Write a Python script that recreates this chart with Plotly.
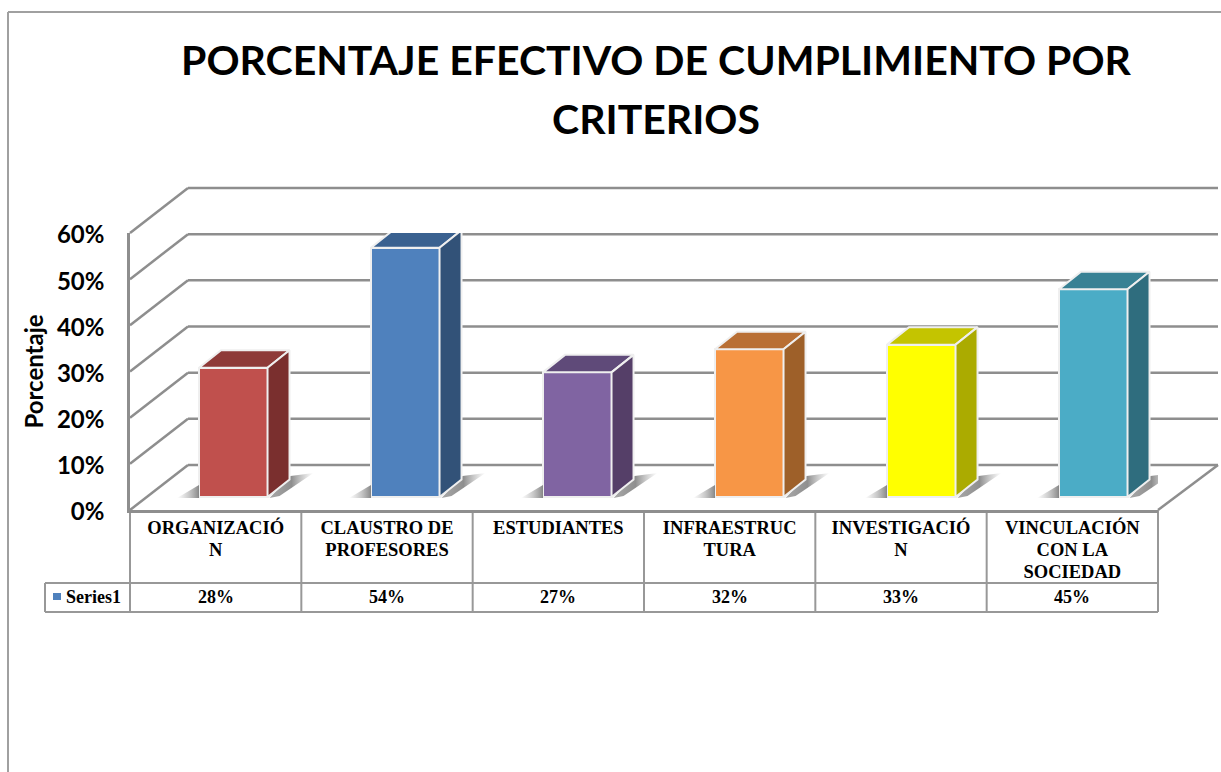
import plotly.graph_objects as go

# ---- data ----
categories = [["ORGANIZACIÓ", "N"], ["CLAUSTRO DE", "PROFESORES"], ["ESTUDIANTES"],
              ["INFRAESTRUC", "TURA"], ["INVESTIGACIÓ", "N"], ["VINCULACIÓN", "CON LA", "SOCIEDAD"]]
values = [0.28, 0.54, 0.27, 0.32, 0.33, 0.45]
value_labels = ["28%", "54%", "27%", "32%", "33%", "45%"]
y_ticks = [0, 0.1, 0.2, 0.3, 0.4, 0.5, 0.6]
series_name = "Series1"
title_lines = ["PORCENTAJE EFECTIVO DE CUMPLIMIENTO POR", "CRITERIOS"]
front_colors = ["#C0504D", "#4F81BD", "#8064A2", "#F79646", "#FFFF00", "#4BACC6"]
top_colors = ["#8E3A38", "#3A6190", "#5F4A79", "#B96F34", "#C4C400", "#388194"]
side_colors = ["#7A2F2E", "#325278", "#553F68", "#9E6029", "#ABAB00", "#2F6D7E"]

# ---- geometry of the pseudo-3D box ----
W, H = 1221, 772
L, R, T, B = 130, 1158, 233, 510        # front plane of the plot in pixels
PX_X = (R - L) / 6                       # pixels per category
PX_Y = (B - T) / 0.6                     # pixels per unit of value
WALL_DX, WALL_DY = 58, 45
BAR_DX, BAR_DY = 17.6, 13
BAR_STEP = 172 / PX_X
DEPTH_DX, DEPTH_DY = 22, 17.5
BAR_W = 68.5 / PX_X
GRID = "#8E8E8E"
TABLE = "#989898"
BAR_EDGE = "#EFEFEF"
SERIF = "Liberation Serif"
SANS = "Lato"


def px(v):
    return (v - L) / (R - L)


def py(v):
    return (B - v) / (B - T)


shapes = []


def line(x0, y0, x1, y1, color=GRID, width=2.5):
    shapes.append(dict(type="line", xref="paper", yref="paper", layer="below",
                       x0=x0, y0=y0, x1=x1, y1=y1,
                       line=dict(color=color, width=width)))


# chart frame
line(px(8), py(773), px(8), py(12), "#A0A0A0", 2)
line(px(8), py(12), px(W + 2), py(12), "#A0A0A0", 2)

# walls and floor, from the tick values
for t in y_ticks:
    yf = t / 0.6
    yb = yf + py(B - WALL_DY)
    line(0, yf, px(L + WALL_DX), yb)
    line(px(L + WALL_DX), yb, px(1218), yb)
line(1, 0, px(1218), py(B - WALL_DY))

# data table rulings
for i in range(7):
    line(i / 6, 0, i / 6, py(612), TABLE, 2)
line(px(45), py(583), 1, py(583), TABLE, 2)
line(px(45), py(612), 1, py(612), TABLE, 2)
line(px(45), py(583), px(45), py(612), TABLE, 2)

# legend key
shapes.append(dict(type="rect", xref="paper", yref="paper", layer="above",
                   x0=px(53), x1=px(61), y0=py(600), y1=py(593),
                   fillcolor=front_colors[1], line_width=0))

fig = go.Figure()

x_centers = [0.5 + BAR_DX / PX_X + i * BAR_STEP for i in range(len(values))]
base = BAR_DY / PX_Y
dx = DEPTH_DX / PX_X
dy = DEPTH_DY / PX_Y

fig.add_trace(go.Bar(
    x=x_centers, y=values, base=base, width=BAR_W, name=series_name,
    marker=dict(color=front_colors, line=dict(color=BAR_EDGE, width=2)),
    cliponaxis=False, showlegend=False, hoverinfo="skip"))

for xc, v, tc, sc in zip(x_centers, values, top_colors, side_colors):
    x0, x1 = xc - BAR_W / 2, xc + BAR_W / 2
    top = v + base
    # floor shadows
    fig.add_trace(go.Scatter(
        x=[x0 - 22 / PX_X, x0, x0, x0 - 22 / PX_X],
        y=[base - 1 / PX_Y, base - 1 / PX_Y, base + 12 / PX_Y, base - 1 / PX_Y],
        mode="lines", line=dict(width=0), fill="toself", cliponaxis=False,
        fillgradient=dict(type="horizontal", colorscale=[[0, "rgba(150,150,150,0)"], [0.55, "rgba(135,135,135,0.45)"], [1, "rgba(115,115,115,0.85)"]]),
        showlegend=False, hoverinfo="skip"))
    fig.add_trace(go.Scatter(
        x=[x1 + 2 / PX_X, x1 + dx + 1 / PX_X, x1 + dx + 24 / PX_X, x1 + 12 / PX_X, x1 + 2 / PX_X],
        y=[base - 1 / PX_Y, base + 21 / PX_Y, base + 24 / PX_Y, base + 1 / PX_Y, base - 1 / PX_Y],
        mode="lines", line=dict(width=0), fill="toself", cliponaxis=False,
        fillgradient=dict(type="horizontal", colorscale=[[0, "rgba(120,120,120,0.65)"], [0.5, "rgba(115,115,115,0.8)"], [1, "rgba(150,150,150,0)"]]),
        showlegend=False, hoverinfo="skip"))
    # top face
    fig.add_trace(go.Scatter(
        x=[x0, x1, x1 + dx, x0 + dx, x0], y=[top, top, top + dy, top + dy, top],
        mode="lines", line=dict(color=BAR_EDGE, width=2), fill="toself", fillcolor=tc,
        cliponaxis=False, showlegend=False, hoverinfo="skip"))
    # side face
    fig.add_trace(go.Scatter(
        x=[x1, x1 + dx, x1 + dx, x1, x1], y=[base, base + dy, top + dy, top, base],
        mode="lines", line=dict(color=BAR_EDGE, width=2), fill="toself", fillcolor=sc,
        cliponaxis=False, showlegend=False, hoverinfo="skip"))

annotations = [dict(xref="x", yref="paper", x=i + 0.5, y=py(597), yanchor="middle", text=lab, showarrow=False,
                    font=dict(family=SERIF, size=18, color="#000000", weight="bold"))
               for i, lab in enumerate(value_labels)]
annotations.append(dict(xref="paper", yref="paper", x=px(64), y=py(596.5), yanchor="middle", text=series_name,
                        xanchor="left", showarrow=False,
                        font=dict(family=SERIF, size=18, color="#000000", weight="bold")))

title_html = "<br>".join(f'<span style="font-size:41px">{t}</span>' for t in title_lines)
tick_html = ["<br>".join(f'<span style="font-size:18.5px">{p}</span>' for p in c) for c in categories]

fig.update_layout(
    width=W, height=H, autosize=False,
    margin=dict(l=L, r=W - R, t=T, b=H - B, pad=0),
    paper_bgcolor="#FFFFFF", plot_bgcolor="rgba(0,0,0,0)",
    title=dict(text=title_html, x=656 / W, xanchor="center", y=1 - 75 / H, yanchor="top",
               font=dict(family=SANS, size=45, color="#000000", weight="bold")),
    shapes=shapes, annotations=annotations, showlegend=False,
    bargap=0,
    xaxis=dict(range=[0, 6], tickmode="array", tickvals=[i + 0.5 for i in range(6)],
               ticktext=tick_html, tickangle=0, ticks="outside", ticklen=1,
               tickcolor="rgba(0,0,0,0)", showgrid=False, zeroline=False,
               showline=True, linecolor=GRID, linewidth=2.5,
               tickfont=dict(family=SERIF, size=17, color="#000000", weight="bold")),
    yaxis=dict(range=[0, 0.6], tickmode="array", tickvals=y_ticks, tickformat=".0%",
               ticks="outside", ticklen=18, tickcolor="rgba(0,0,0,0)", ticklabelshift=2,
               showgrid=False, zeroline=False, showline=True, linecolor=GRID, linewidth=2.5,
               tickfont=dict(family=SANS, size=24, color="#000000", weight="bold"),
               title=dict(text="Porcentaje", standoff=7,
                          font=dict(family=SANS, size=24, color="#000000", weight="bold"))),
)

fig.write_html("out.html", config=dict(displayModeBar=False),
               post_script="document.body.style.margin='0';document.documentElement.style.overflow='hidden';")
